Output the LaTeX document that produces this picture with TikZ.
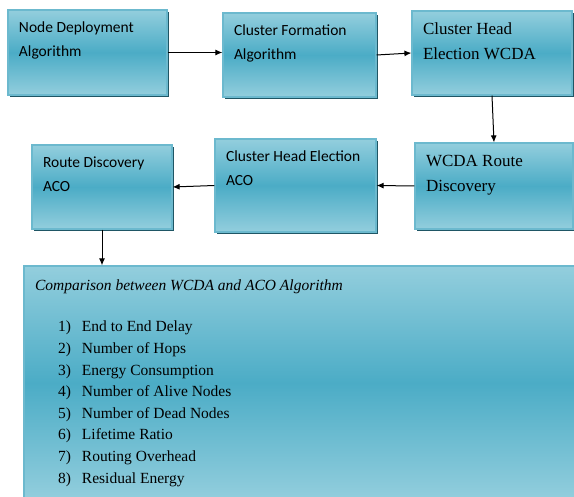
\documentclass[tikz,border=0pt]{standalone}
\usepackage{fontspec}
\setmainfont{Liberation Serif}
\newfontfamily\calib{Carlito}
\usepackage{tikz}
\usetikzlibrary{shadows,arrows.meta}

\definecolor{tealL}{RGB}{147,206,221}
\definecolor{tealM}{RGB}{75,172,198}
\definecolor{tealB}{RGB}{108,185,206}
\definecolor{tealS}{RGB}{31,86,101}

\tikzset{
  blk/.style={draw=tealB,line width=1.2pt,top color=tealL,bottom color=tealL,
    middle color=tealM,inner xsep=11pt,inner ysep=0pt,
    drop shadow={shadow xshift=2pt,shadow yshift=-2.5pt,fill=tealS,opacity=1}},
  bigblk/.style={draw=tealB,line width=1.2pt,top color=tealL,bottom color=tealL,
    middle color=tealM,inner xsep=11pt,inner ysep=0pt},
  arr/.style={-{Latex[length=7pt,width=6pt]},line width=1pt,black}
}
% text inside a box: height, width, lines
\newcommand{\sanstext}[3]{\parbox[c][#1][t]{#2}{\calib\fontsize{15.5}{24}\selectfont\rule{0pt}{23pt}#3}}
\newcommand{\seriftext}[3]{\parbox[c][#1][t]{#2}{\fontsize{17}{25}\selectfont\rule{0pt}{24pt}#3}}

\begin{document}
\begin{tikzpicture}[x=1pt,y=-1pt]
\useasboundingbox (0,0) rectangle (574,497);
% top row
\node[blk] (nd) at (87.5,52.5) {\sanstext{85pt}{137pt}{Node Deployment\\Algorithm}};
\node[blk] (cf) at (299.5,55) {\sanstext{84pt}{131pt}{Cluster Formation\\Algorithm}};
\node[blk] (chw) at (492,53) {\seriftext{84pt}{138pt}{Cluster Head\\Election WCDA}};
% second row
\node[blk] (wrd) at (494,186) {\seriftext{86pt}{136pt}{WCDA Route\\Discovery}};
\node[blk] (cha) at (295.5,185.5) {\sanstext{93pt}{139pt}{\rule{0pt}{0pt}\hspace{0pt}Cluster Head Election\\ACO}};
\node[blk] (rda) at (102,187) {\sanstext{84pt}{118pt}{Route Discovery\\ACO}};
% comparison box
\node[bigblk] (cmp) at (302,383) {\parbox[c][234pt][t]{534pt}{\fontsize{15.5}{21.6}\selectfont
  \rule{0pt}{24pt}\textit{Comparison between WCDA and ACO Algorithm}\\[20.4pt]
  \hspace*{23pt}\makebox[24pt][l]{1)}End to End Delay\\
  \hspace*{23pt}\makebox[24pt][l]{2)}Number of Hops\\
  \hspace*{23pt}\makebox[24pt][l]{3)}Energy Consumption\\
  \hspace*{23pt}\makebox[24pt][l]{4)}Number of Alive Nodes\\
  \hspace*{23pt}\makebox[24pt][l]{5)}Number of Dead Nodes\\
  \hspace*{23pt}\makebox[24pt][l]{6)}Lifetime Ratio\\
  \hspace*{23pt}\makebox[24pt][l]{7)}Routing Overhead\\
  \hspace*{23pt}\makebox[24pt][l]{8)}Residual Energy}};
% connectors
\draw[arr] (nd.east) -- (nd.east -| cf.west);
\draw[arr] (cf.east) -- (chw.west);
\draw[arr] (chw.south) -- (wrd.north);
\draw[arr] (wrd.west) -- (cha.east);
\draw[arr] (cha.west) -- (rda.east);
\draw[arr] (rda.south) -- (rda.south |- cmp.north);
\end{tikzpicture}
\end{document}
